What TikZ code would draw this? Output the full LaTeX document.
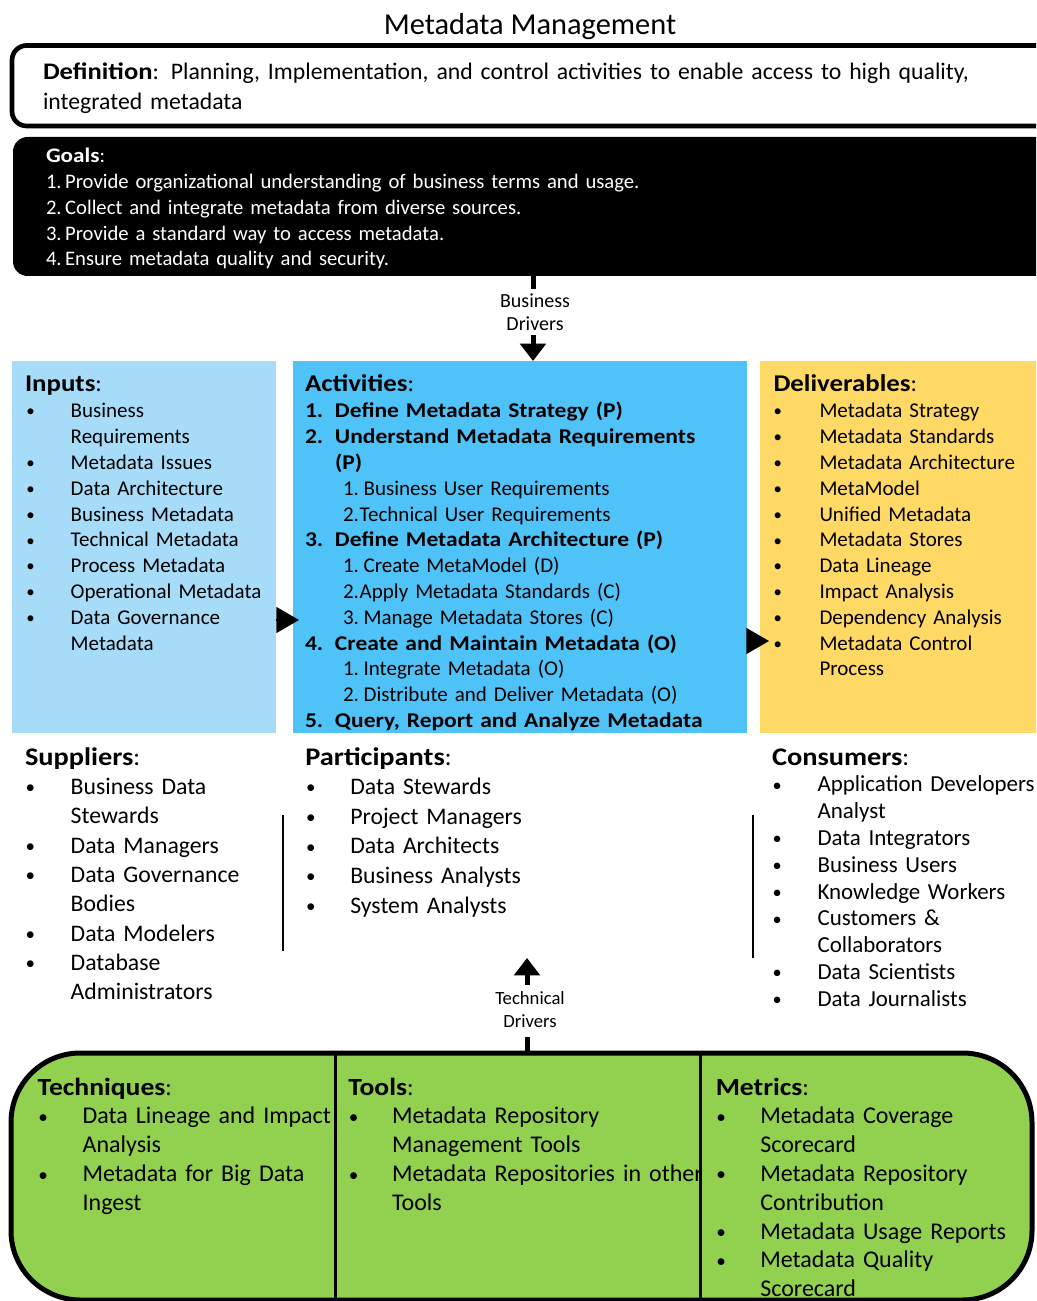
\documentclass[tikz,border=0pt]{standalone}
\usepackage{fontspec}
\setmainfont{Carlito}[BoldFeatures={FakeStretch=1.12}]
\usetikzlibrary{fit,arrows.meta}
\definecolor{inpblue}{RGB}{166,220,248}
\definecolor{actblue}{RGB}{79,194,247}
\definecolor{delyel}{RGB}{255,217,102}
\definecolor{tgreen}{RGB}{146,208,80}
\newlength\bulind
\newlength\txtind
\newcommand\smbul{\raisebox{0.6pt}{\scalebox{0.8}{\textbullet}}}
\newcommand\mmhead[2]{\noindent{\fontsize{#1}{#1}\selectfont\textbf{#2}:}}
\newcommand\litem[1]{\par\hangindent=\txtind\hangafter=1\noindent\makebox[\txtind][l]{\hspace{\bulind}\smbul}#1}
\newcommand\nitem[2]{\par\hangindent=\txtind\hangafter=1\noindent\makebox[\txtind][l]{\bfseries #1}{\bfseries #2}}
\newcommand\sitem[3][3.5pt]{\par\noindent\hspace{28.5pt}#2\hspace{#1}#3}
\tikzset{
  blk/.style={anchor=base west, inner sep=0pt, outer sep=0pt, align=left, text width=#1},
  area/.style={inner sep=0pt, outer sep=0pt},
  stub/.style={line width=3.75pt},
  bigarrow/.style={line width=3.75pt, -{Triangle[length=13pt,width=19pt]}},
  sidearrow/.style={line width=1pt, -{Triangle[length=17pt,width=19.5pt]}},
  vline/.style={line width=1.5pt},
  drv/.style={align=center, inner sep=0pt, font=\fontsize{15pt}{17.25pt}\selectfont},
}
\begin{document}
\begin{tikzpicture}[x=0.75pt,y=-0.75pt]
\useasboundingbox (0,0) rectangle (1036,1301);
\fill[white] (0,0) rectangle (1036,1301);
\clip (0,0) rectangle (1036,1301);

% title
\node[anchor=base, inner sep=0pt, font=\fontsize{22.8pt}{24pt}\selectfont] (title) at (530,35) {Metadata Management};

% definition
\node[area, fit={(12,45.5) (1050,126)}, draw, line width=3.5pt, rounded corners=11pt] (def) {};
\node[blk=760pt, font=\fontsize{17.8pt}{22.5pt}\selectfont] (deftext) at (43,80)
 {\textbf{Definition}: Planning, Implementation, and control activities to enable access to high quality,\newline integrated metadata\par};

% goals
\node[area, fit={(13,137) (1050,276)}, fill=black, rounded corners=11pt] (goals) {};
\node[blk=700pt, text=white, font=\fontsize{15.5pt}{19.3pt}\selectfont] (goalstext) at (46,163)
 {\noindent\textbf{Goals}:\par
  \noindent 1.\,Provide organizational understanding of business terms and usage.\par
  \noindent 2.\,Collect and integrate metadata from diverse sources.\par
  \noindent 3.\,Provide a standard way to access metadata.\par
  \noindent 4.\,Ensure metadata quality and security.\par};

% business drivers
\node[drv] (bd) at (535,312) {Business\\Drivers};
\coordinate (bdtop) at (533,289);
\coordinate (bdbot) at (533,335);

% three main boxes
\node[area, fit={(12,361) (276,733)}, fill=inpblue] (inp) {};
\node[area, fit={(293,361) (747,733)}, fill=actblue] (act) {};
\node[area, fit={(760,361) (1050,733)}, fill=delyel] (del) {};

\draw[stub] (goals.south -| bdtop) -- (bdtop);
\draw[bigarrow] (bdbot) -- (bdbot |- act.north);

\node[blk=240pt, font=\fontsize{15.75pt}{19.35pt}\selectfont] (inptext) at (25,392)
 {\setlength\bulind{1pt}\setlength\txtind{34.3pt}%
  \mmhead{18pt}{Inputs}%
  \litem{Business\newline Requirements}%
  \litem{Metadata Issues}%
  \litem{Data Architecture}%
  \litem{Business Metadata}%
  \litem{Technical Metadata}%
  \litem{Process Metadata}%
  \litem{Operational Metadata}%
  \litem{Data Governance\newline Metadata}\par};

\node[blk=330pt, font=\fontsize{15.75pt}{19.35pt}\selectfont] (acttext) at (305,392)
 {\setlength\txtind{22.5pt}%
  \mmhead{18pt}{Activities}%
  \nitem{1.}{Define Metadata Strategy (P)}%
  \nitem{2.}{Understand Metadata Requirements\newline (P)}%
  \sitem{1.}{Business User Requirements}%
  \sitem[0.6pt]{2.}{Technical User Requirements}%
  \nitem{3.}{Define Metadata Architecture (P)}%
  \sitem{1.}{Create MetaModel (D)}%
  \sitem[0.6pt]{2.}{Apply Metadata Standards (C)}%
  \sitem{3.}{Manage Metadata Stores (C)}%
  \nitem{4.}{Create and Maintain Metadata (O)}%
  \sitem{1.}{Integrate Metadata (O)}%
  \sitem{2.}{Distribute and Deliver Metadata (O)}%
  \nitem{5.}{Query, Report and Analyze Metadata}\par};

\node[blk=240pt, font=\fontsize{15.75pt}{19.35pt}\selectfont] (deltext) at (773.5,392)
 {\setlength\bulind{0pt}\setlength\txtind{34.5pt}%
  \mmhead{18pt}{Deliverables}%
  \litem{Metadata Strategy}%
  \litem{Metadata Standards}%
  \litem{Metadata Architecture}%
  \litem{MetaModel}%
  \litem{Unified Metadata}%
  \litem{Metadata Stores}%
  \litem{Data Lineage}%
  \litem{Impact Analysis}%
  \litem{Dependency Analysis}%
  \litem{Metadata Control\newline Process}\par};

\coordinate (a1) at (299,620);
\coordinate (a2) at (769,641);
\draw[sidearrow] (inp.east |- a1) -- (a1);
\draw[sidearrow] (act.east |- a2) -- (a2);

% suppliers, participants, consumers
\node[blk=240pt, font=\fontsize{17.8pt}{22pt}\selectfont] (suptext) at (25,765)
 {\setlength\bulind{0.5pt}\setlength\txtind{34.3pt}%
  \mmhead{19pt}{Suppliers}%
  \litem{Business Data\newline Stewards}%
  \litem{Data Managers}%
  \litem{Data Governance\newline Bodies}%
  \litem{Data Modelers}%
  \litem{Database\newline Administrators}\par};

\node[blk=240pt, font=\fontsize{17.8pt}{22.2pt}\selectfont] (partext) at (305.4,765)
 {\setlength\bulind{0.5pt}\setlength\txtind{33.7pt}%
  \mmhead{19pt}{Participants}%
  \litem{Data Stewards}%
  \litem{Project Managers}%
  \litem{Data Architects}%
  \litem{Business Analysts}%
  \litem{System Analysts}\par};

\node[blk=260pt, font=\fontsize{17.2pt}{20.1pt}\selectfont] (context) at (772,765)
 {\setlength\bulind{0.5pt}\setlength\txtind{34.2pt}%
  \mmhead{19pt}{Consumers}%
  \litem{Application Developers\newline Analyst}%
  \litem{Data Integrators}%
  \litem{Business Users}%
  \litem{Knowledge Workers}%
  \litem{Customers \&\newline Collaborators}%
  \litem{Data Scientists}%
  \litem{Data Journalists}\par};

\draw[vline] (283,815) -- (283,951);
\draw[vline] (752.5,815) -- (752.5,958);

% technical drivers
\node[drv, font=\fontsize{14pt}{17.25pt}\selectfont] (td) at (530,1010) {Technical\\Drivers};
\coordinate (tdtip) at (527,958);
\coordinate (tdbase) at (527,985);
\coordinate (tdstub) at (527,1037);

% bottom green box
\node[area, fit={(11,1053) (1032,1300)}, fill=tgreen, draw, line width=3.75pt, rounded corners=52pt] (green) {};
\draw[bigarrow] (tdbase) -- (tdtip);
\draw[stub] (tdstub) -- (tdstub |- green.north);

\node[blk=240pt, font=\fontsize{18pt}{21.7pt}\selectfont] (techtext) at (37.7,1095)
 {\setlength\bulind{0.5pt}\setlength\txtind{33.7pt}%
  \mmhead{18.5pt}{Techniques}%
  \litem{Data Lineage and Impact\newline Analysis}%
  \litem{Metadata for Big Data\newline Ingest}\par};

\node[blk=300pt, font=\fontsize{18pt}{21.7pt}\selectfont] (tooltext) at (348.3,1095)
 {\setlength\bulind{0.5pt}\setlength\txtind{32.8pt}%
  \mmhead{18.5pt}{Tools}%
  \litem{Metadata Repository\newline Management Tools}%
  \litem{Metadata Repositories in other\newline Tools}\par};

\node[blk=240pt, font=\fontsize{18pt}{21.6pt}\selectfont] (mettext) at (715.8,1095)
 {\setlength\bulind{0.5pt}\setlength\txtind{33.4pt}%
  \mmhead{18.5pt}{Metrics}%
  \litem{Metadata Coverage\newline Scorecard}%
  \litem{Metadata Repository\newline Contribution}%
  \litem{Metadata Usage Reports}%
  \litem{Metadata Quality\newline Scorecard}\par};

\draw[line width=2.25pt] (335,1053) -- (335,1300);
\draw[line width=2.25pt] (700,1053) -- (700,1300);
\end{tikzpicture}
\end{document}
